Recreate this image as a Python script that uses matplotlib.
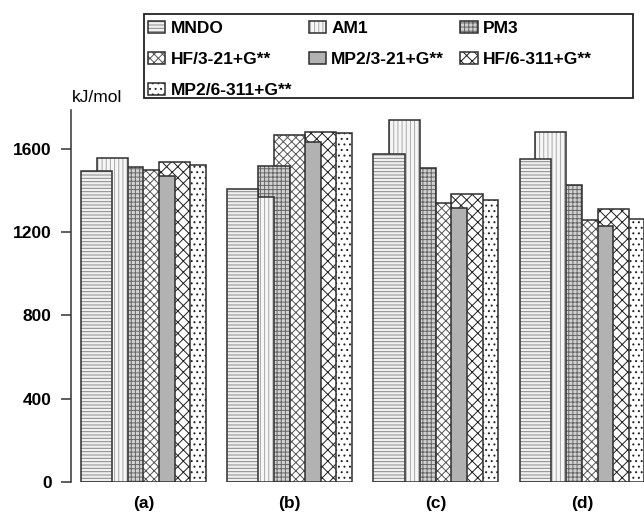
import numpy as np
import matplotlib
matplotlib.use('Agg')
import matplotlib.pyplot as plt
from matplotlib.patches import Rectangle

plt.rcParams['font.family'] = ['Liberation Sans', 'DejaVu Sans']
plt.rcParams['font.weight'] = 'bold'
plt.rcParams['hatch.linewidth'] = 0.7

# energies in kJ/mol
groups = ['(a)', '(b)', '(c)', '(d)']
methods = ['MNDO', 'AM1', 'PM3', 'HF/3-21+G**', 'MP2/3-21+G**',
           'HF/6-311+G**', 'MP2/6-311+G**']
mndo = [1495, 1407, 1575, 1551]
am1 = [1554, 1370, 1738, 1682]
pm3 = [1511, 1517, 1506, 1426]
hf_321 = [1498, 1666, 1338, 1258]
mp2_321 = [1469, 1634, 1314, 1231]
hf_6311 = [1538, 1682, 1383, 1311]
mp2_6311 = [1522, 1677, 1354, 1261]
series = [mndo, am1, pm3, hf_321, mp2_321, hf_6311, mp2_6311]
yticks = [0, 400, 800, 1200, 1600]

# (face, hatch colour, hatch) per method, scanned b/w look
styles = [
  ('#f0f0f0', '#888888', '-----'),
  ('#f6f6f6', '#a8a8a8', '||||'),
  ('#d2d2d2', '#666666', '++++'),
  ('#ffffff', '#555555', 'xxxx'),
  ('#b2b2b2', '#b2b2b2', None),
  ('#ffffff', '#1e1e1e', 'xxx'),
  ('#ffffff', '#222222', '...'),
]

fig = plt.figure(figsize=(6.44, 5.14), dpi=100)
ax = fig.add_axes([71/644, 32/514, 573/644, 372/514])

step = 1.0            # offset between neighbouring bars
width = 2 * step      # bars overlap by half
pitch = 9.37          # group spacing
start = 0.64
x0 = start + pitch * np.arange(len(groups))

handles = []
for i, (vals, (fc, hc, h)) in enumerate(zip(series, styles)):
  left = x0 + i * step
  z = 2 * (len(series) - i)
  fill = ax.bar(left, vals, width=width, align='edge', color=fc,
                edgecolor=hc, linewidth=0, hatch=h, zorder=z)
  edge = ax.bar(left, vals, width=width, align='edge', facecolor='none',
                edgecolor='#2e2e2e', linewidth=1.1, zorder=z + 1)
  handles.append((fill[0], edge[0]))

ax.set_xlim(0, 36.73)
ax.set_ylim(0, 1786)
ax.set_yticks(yticks)
ax.set_xticks(x0 + 4 * step)
ax.set_xticklabels(groups)
for s in ['top', 'right', 'bottom']:
  ax.spines[s].set_visible(False)
ax.spines['left'].set_color('#333333')
ax.spines['left'].set_linewidth(1.1)
ax.tick_params(axis='y', length=7, width=1.1, color='#333333', pad=7,
               labelsize=12.5)
ax.tick_params(axis='x', length=0, pad=10, labelsize=12.5)

fig.text(72/644, 1 - 97/514, 'kJ/mol', fontsize=12.5, va='center',
         ha='left', fontweight='normal')

# legend: row-wise order inside a 3-column layout
order = [0, 3, 6, 1, 4, 2, 5]
leg = fig.legend([handles[k] for k in order], [methods[k] for k in order],
                 ncol=3, loc='upper left', bbox_to_anchor=(148/644, 1 - 21/514),
                 frameon=False, fontsize=12.5, borderpad=0, borderaxespad=0,
                 handlelength=1.0, handleheight=0.65, handletextpad=0.3,
                 columnspacing=0.95, labelspacing=0.92)
fig.patches.append(Rectangle((144/644, 1 - 98/514), (633-144)/644, 84/514,
                             transform=fig.transFigure, fill=False,
                             edgecolor='#222222', linewidth=1.3))

fig.savefig('out.png', dpi=100, facecolor='white')
